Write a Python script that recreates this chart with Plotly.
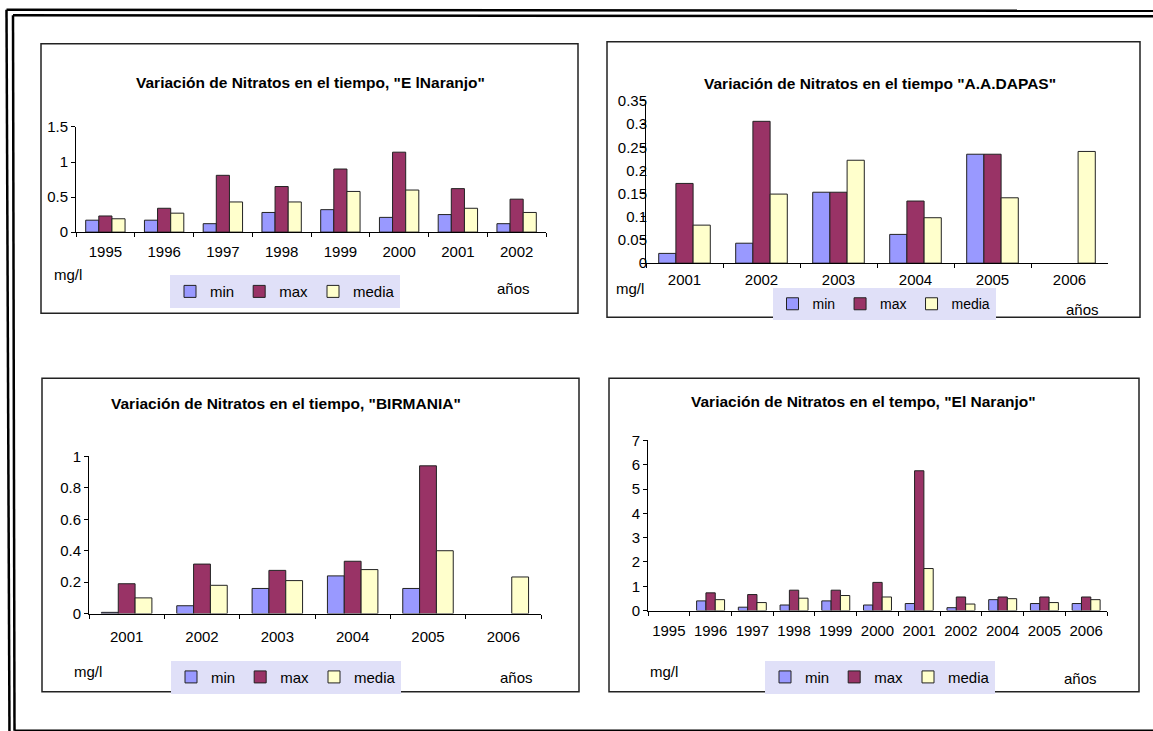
import plotly.graph_objects as go

W, H = 1153, 749   # figure height slightly larger than the window to cover the photographed area
Y_OFF, Y_SCALE = 8.2, 0.976

# ---------------- data ----------------
years1 = ["1995", "1996", "1997", "1998", "1999", "2000", "2001", "2002"]
min1 = [0.17, 0.17, 0.12, 0.28, 0.32, 0.21, 0.25, 0.12]
max1 = [0.23, 0.34, 0.81, 0.65, 0.90, 1.14, 0.62, 0.47]
media1 = [0.19, 0.27, 0.43, 0.43, 0.58, 0.60, 0.34, 0.28]

years2 = ["2001", "2002", "2003", "2004", "2005", "2006"]
min2 = [0.021, 0.043, 0.153, 0.062, 0.235, None]
max2 = [0.172, 0.306, 0.153, 0.134, 0.235, None]
media2 = [0.082, 0.149, 0.222, 0.098, 0.141, 0.241]

years3 = ["2001", "2002", "2003", "2004", "2005", "2006"]
min3 = [0.008, 0.05, 0.16, 0.24, 0.16, None]
max3 = [0.19, 0.315, 0.275, 0.333, 0.94, None]
media3 = [0.10, 0.18, 0.21, 0.28, 0.40, 0.233]

years4 = ["1995", "1996", "1997", "1998", "1999", "2000", "2001", "2002", "2004", "2005", "2006"]
min4 = [None, 0.40, 0.14, 0.23, 0.40, 0.23, 0.29, 0.12, 0.45, 0.29, 0.29]
max4 = [None, 0.73, 0.66, 0.84, 0.84, 1.16, 5.75, 0.56, 0.56, 0.56, 0.56]
media4 = [None, 0.45, 0.33, 0.51, 0.62, 0.56, 1.73, 0.27, 0.49, 0.33, 0.45]

titles = [
    'Variación de Nitratos en el tiempo, "E lNaranjo"',
    'Variación de Nitratos en el tiempo "A.A.DAPAS"',
    'Variación de Nitratos en el tiempo, "BIRMANIA"',
    'Variación de Nitratos en el tempo, "El Naranjo"',
]
series_names = ["min", "max", "media"]
colors = ["#9999FF", "#993366", "#FFFFCC"]

FONT = "Arial, Liberation Sans, sans-serif"


def px(x):
    return x / W


def py(y):
    fy = (y - Y_OFF) / Y_SCALE
    return 1 - fy / H


# ---------------- layout geometry (pixels) ----------------
charts = [
    dict(years=years1, vals=[min1, max1, media1], plot=(76, 546, 126, 231), yr=[0, 1.5], dt=0.5,
         box=(41, 578, 43, 312), title=(310, 82), mg=(52, 273), anos=(513, 287),
         leg=(285, 274), legfont=15, ystand=0, xstand=6),
    dict(years=years2, vals=[min2, max2, media2], plot=(646, 1108, 100, 262), yr=[0, 0.35], dt=0.05,
         box=(607, 1140, 41, 316), title=(880, 83), mg=(630, 287), anos=(1082, 308),
         leg=(884, 287), legfont=14, ystand=-9, xstand=3),
    dict(years=years3, vals=[min3, max3, media3], plot=(89, 541, 455, 612), yr=[0, 1], dt=0.2,
         box=(42, 579, 377, 690), title=(286, 402), mg=(72, 670), anos=(516, 676),
         leg=(286, 659), legfont=15, ystand=0, xstand=9),
    dict(years=years4, vals=[min4, max4, media4], plot=(648, 1107, 439, 609), yr=[0, 7], dt=1,
         box=(609, 1139, 377, 690), title=(864, 400), mg=(648, 670), anos=(1080, 677),
         leg=(880, 659), legfont=15, ystand=0, xstand=6),
]

fig = go.Figure()
annotations = []
shapes = []
layout_axes = {}

for i, c in enumerate(charts):
    k = "" if i == 0 else str(i + 1)
    legname = "legend" + k
    for s in range(3):
        fig.add_trace(go.Bar(
            x=c["years"], y=c["vals"][s], name=series_names[s],
            marker=dict(color=colors[s], line=dict(color="#222222", width=1)),
            xaxis="x" + k, yaxis="y" + k, legend=legname, showlegend=True,
        ))
    x0, x1, y0, y1 = c["plot"]
    layout_axes["xaxis" + k] = dict(
        domain=[px(x0), px(x1)], anchor="y" + k, type="category",
        showline=True, linecolor="#000", linewidth=1, ticks="outside", ticklen=4,
        tickcolor="#000", tickson="boundaries", showgrid=False, tickangle=0,
        ticklabelstandoff=c["xstand"],
        tickfont=dict(family=FONT, size=15, color="#000"), fixedrange=True,
    )
    layout_axes["yaxis" + k] = dict(
        domain=[py(y1), py(y0)], anchor="x" + k, range=c["yr"], dtick=c["dt"],
        showline=True, linecolor="#000", linewidth=1, ticks="outside", ticklen=4,
        tickcolor="#000", showgrid=False, zeroline=False,
        ticklabelstandoff=c["ystand"],
        tickfont=dict(family=FONT, size=15, color="#000"), fixedrange=True,
    )
    layout_axes[legname] = dict(
        orientation="h", x=px(c["leg"][0]), y=py(c["leg"][1]), xanchor="center", yanchor="top",
        bgcolor="#E0E0F8", font=dict(family=FONT, size=c["legfont"], color="#000"),
        itemwidth=30, tracegroupgap=0,
    )
    bx0, bx1, by0, by1 = c["box"]
    shapes.append(dict(type="rect", xref="paper", yref="paper",
                       x0=px(bx0), x1=px(bx1), y0=py(by1), y1=py(by0),
                       line=dict(color="#222", width=1.5)))
    annotations.append(dict(text="<b>" + titles[i] + "</b>", x=px(c["title"][0]), y=py(c["title"][1]),
                            xref="paper", yref="paper", showarrow=False,
                            font=dict(family=FONT, size=15.5, color="#000"),
                            xanchor="center", yanchor="middle"))
    annotations.append(dict(text="mg/l", x=px(c["mg"][0]), y=py(c["mg"][1]),
                            xref="paper", yref="paper", showarrow=False,
                            font=dict(family=FONT, size=15, color="#000"),
                            xanchor="left" if i != 1 else "center", yanchor="middle"))
    annotations.append(dict(text="años", x=px(c["anos"][0]), y=py(c["anos"][1]),
                            xref="paper", yref="paper", showarrow=False,
                            font=dict(family=FONT, size=15, color="#000"),
                            xanchor="center", yanchor="middle"))

# outer double frame
frame = [
    (6.5, 9, 9.5, 735), (13, 14.5, 14.5, 729),   # left lines
    (6.5, 9, 1153, 10), (13, 14.5, 1153, 15.5),  # top lines
    (14.5, 729, 1153, 729),                       # bottom line
]
for (a, b, cc, d) in frame:
    shapes.append(dict(type="line", xref="paper", yref="paper",
                       x0=px(a), y0=py(b), x1=px(cc), y1=py(d),
                       line=dict(color="#000", width=2.5)))

fig.update_layout(
    width=W, height=H, margin=dict(l=0, r=0, t=0, b=0),
    paper_bgcolor="white", plot_bgcolor="white",
    barmode="group", bargap=0.33, bargroupgap=0,
    shapes=shapes, annotations=annotations,
    font=dict(family=FONT, color="#000"),
    **layout_axes,
)

fig.write_html(
    "out.html",
    config={"displayModeBar": False, "responsive": False},
    post_script=(
        "var gd=document.getElementById('{plot_id}');"
        "gd.style.position='fixed';gd.style.top='0px';gd.style.left='0px';"
        "document.body.style.margin='0';document.body.style.padding='0';"
        "document.documentElement.style.overflow='hidden';"
        "document.body.style.overflow='hidden';"
    ),
)
